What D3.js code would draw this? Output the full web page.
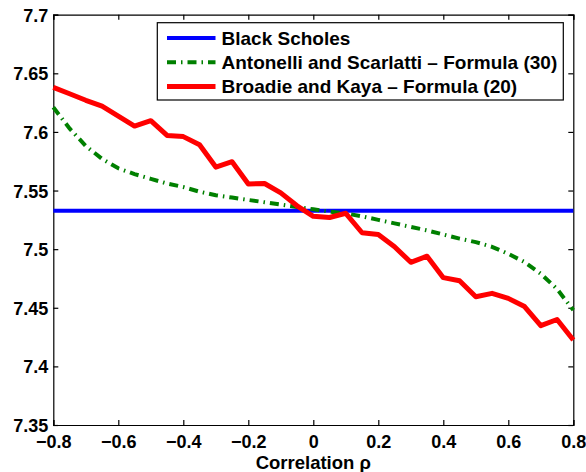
<!DOCTYPE html>
<html>
<head>
<meta charset="utf-8">
<script src="https://cdn.jsdelivr.net/npm/d3@7"></script>
<style>
  body { margin: 0; background: #fff; }
  text { font-family: "Liberation Sans", Arial, sans-serif; font-weight: bold; fill: #000; }
</style>
</head>
<body>
<div id="chart"></div>
<script>
// correlation grid and option prices
var rho = [-0.8, -0.75, -0.7, -0.65, -0.6, -0.55, -0.5, -0.45, -0.4, -0.35, -0.3, -0.25, -0.2, -0.15, -0.1, -0.05,
           0, 0.05, 0.1, 0.15, 0.2, 0.25, 0.3, 0.35, 0.4, 0.45, 0.5, 0.55, 0.6, 0.65, 0.7, 0.75, 0.8];
var blackScholes = 7.5327;
var antonelli = [7.621, 7.603, 7.588, 7.577, 7.569, 7.564, 7.560, 7.556, 7.553, 7.549, 7.546, 7.544, 7.542, 7.540, 7.538, 7.536,
                 7.534, 7.532, 7.5305, 7.528, 7.525, 7.522, 7.519, 7.516, 7.5125, 7.509, 7.506, 7.502, 7.496, 7.489, 7.479, 7.466, 7.448];
var broadie = [7.638, 7.6326, 7.627, 7.622, 7.6135, 7.605, 7.6096, 7.597, 7.596, 7.589, 7.570, 7.5746, 7.5556, 7.556, 7.548, 7.537,
               7.528, 7.527, 7.5306, 7.514, 7.5125, 7.502, 7.4888, 7.494, 7.4757, 7.473, 7.4594, 7.4623, 7.458, 7.451, 7.4347, 7.440, 7.4225];
var xTicks = [-0.8, -0.6, -0.4, -0.2, 0, 0.2, 0.4, 0.6, 0.8];
var yTicks = [7.35, 7.4, 7.45, 7.5, 7.55, 7.6, 7.65, 7.7];
var legendNames = ["Black Scholes", "Antonelli and Scarlatti \u2013 Formula (30)", "Broadie and Kaya \u2013 Formula (20)"];

var W = 586, H = 472;
var mLeft = 53.3, mRight = 573.3, mTop = 14.7, mBottom = 425;

var svg = d3.select("#chart").append("svg")
    .attr("width", W)
    .attr("height", H);

var x = d3.scaleLinear().domain([-0.8, 0.8]).range([mLeft, mRight]);
var y = d3.scaleLinear().domain([7.35, 7.7]).range([mBottom, mTop]);

var fmtX = function(d) { return d === 0 ? "0" : d3.format(".1f")(d).replace("-", "\u2212"); };
var fmtY = function(d) { return String(+d.toFixed(2)); };

// axes with inward ticks, mirrored on top/right
var axB = svg.append("g").attr("transform", "translate(0," + mBottom + ")")
    .call(d3.axisBottom(x).tickValues(xTicks).tickSize(-5).tickPadding(10).tickFormat(fmtX));
var axT = svg.append("g").attr("transform", "translate(0," + mTop + ")")
    .call(d3.axisTop(x).tickValues(xTicks).tickSize(-5).tickFormat(""));
var axL = svg.append("g").attr("transform", "translate(" + mLeft + ",0)")
    .call(d3.axisLeft(y).tickValues(yTicks).tickSize(-5).tickPadding(5).tickFormat(fmtY));
var axR = svg.append("g").attr("transform", "translate(" + mRight + ",0)")
    .call(d3.axisRight(y).tickValues(yTicks).tickSize(-5).tickFormat(""));

[axB, axT, axL, axR].forEach(function(a) {
  a.selectAll("path, line").attr("stroke", "#000").attr("stroke-width", 1.2);
  a.selectAll("text").attr("font-size", "18px").attr("fill", "#000");
});
axL.selectAll("text").attr("dy", "0.36em");
axB.selectAll("text").attr("dy", "0.71em");

// x label
svg.append("text")
    .attr("x", (mLeft + mRight) / 2)
    .attr("y", 469)
    .attr("text-anchor", "middle")
    .attr("font-size", "18.5px")
    .text("Correlation \u03c1");

var line = d3.line()
    .x(function(d, i) { return x(rho[i]); })
    .y(function(d) { return y(d); });

var plot = svg.append("g");

plot.append("path")
    .attr("d", line(rho.map(function() { return blackScholes; })))
    .attr("fill", "none")
    .attr("stroke", "#0000ff")
    .attr("stroke-width", 4);

plot.append("path")
    .attr("d", line(antonelli))
    .attr("fill", "none")
    .attr("stroke", "#008000")
    .attr("stroke-width", 4)
    .attr("stroke-dasharray", "9,5,1.5,5");

plot.append("path")
    .attr("d", line(broadie))
    .attr("fill", "none")
    .attr("stroke", "#ff0000")
    .attr("stroke-width", 5)
    .attr("stroke-linejoin", "round");

// legend
var leg = svg.append("g");
leg.append("rect")
    .attr("x", 157.3).attr("y", 22.7)
    .attr("width", 406).attr("height", 77.3)
    .attr("fill", "#fff").attr("stroke", "#000").attr("stroke-width", 1.2);

var legStyles = [
  {color: "#0000ff", width: 4, dash: null},
  {color: "#008000", width: 4, dash: "9,5,1.5,5"},
  {color: "#ff0000", width: 5, dash: null}
];
legendNames.forEach(function(name, i) {
  var cy = 38 + i * 24.2;
  leg.append("line")
      .attr("x1", 167).attr("x2", 215.5)
      .attr("y1", cy).attr("y2", cy)
      .attr("stroke", legStyles[i].color)
      .attr("stroke-width", legStyles[i].width)
      .attr("stroke-dasharray", legStyles[i].dash);
  leg.append("text")
      .attr("x", 221.5).attr("y", cy)
      .attr("dy", "0.36em")
      .attr("font-size", "19px")
      .text(name);
});
</script>
</body>
</html>
